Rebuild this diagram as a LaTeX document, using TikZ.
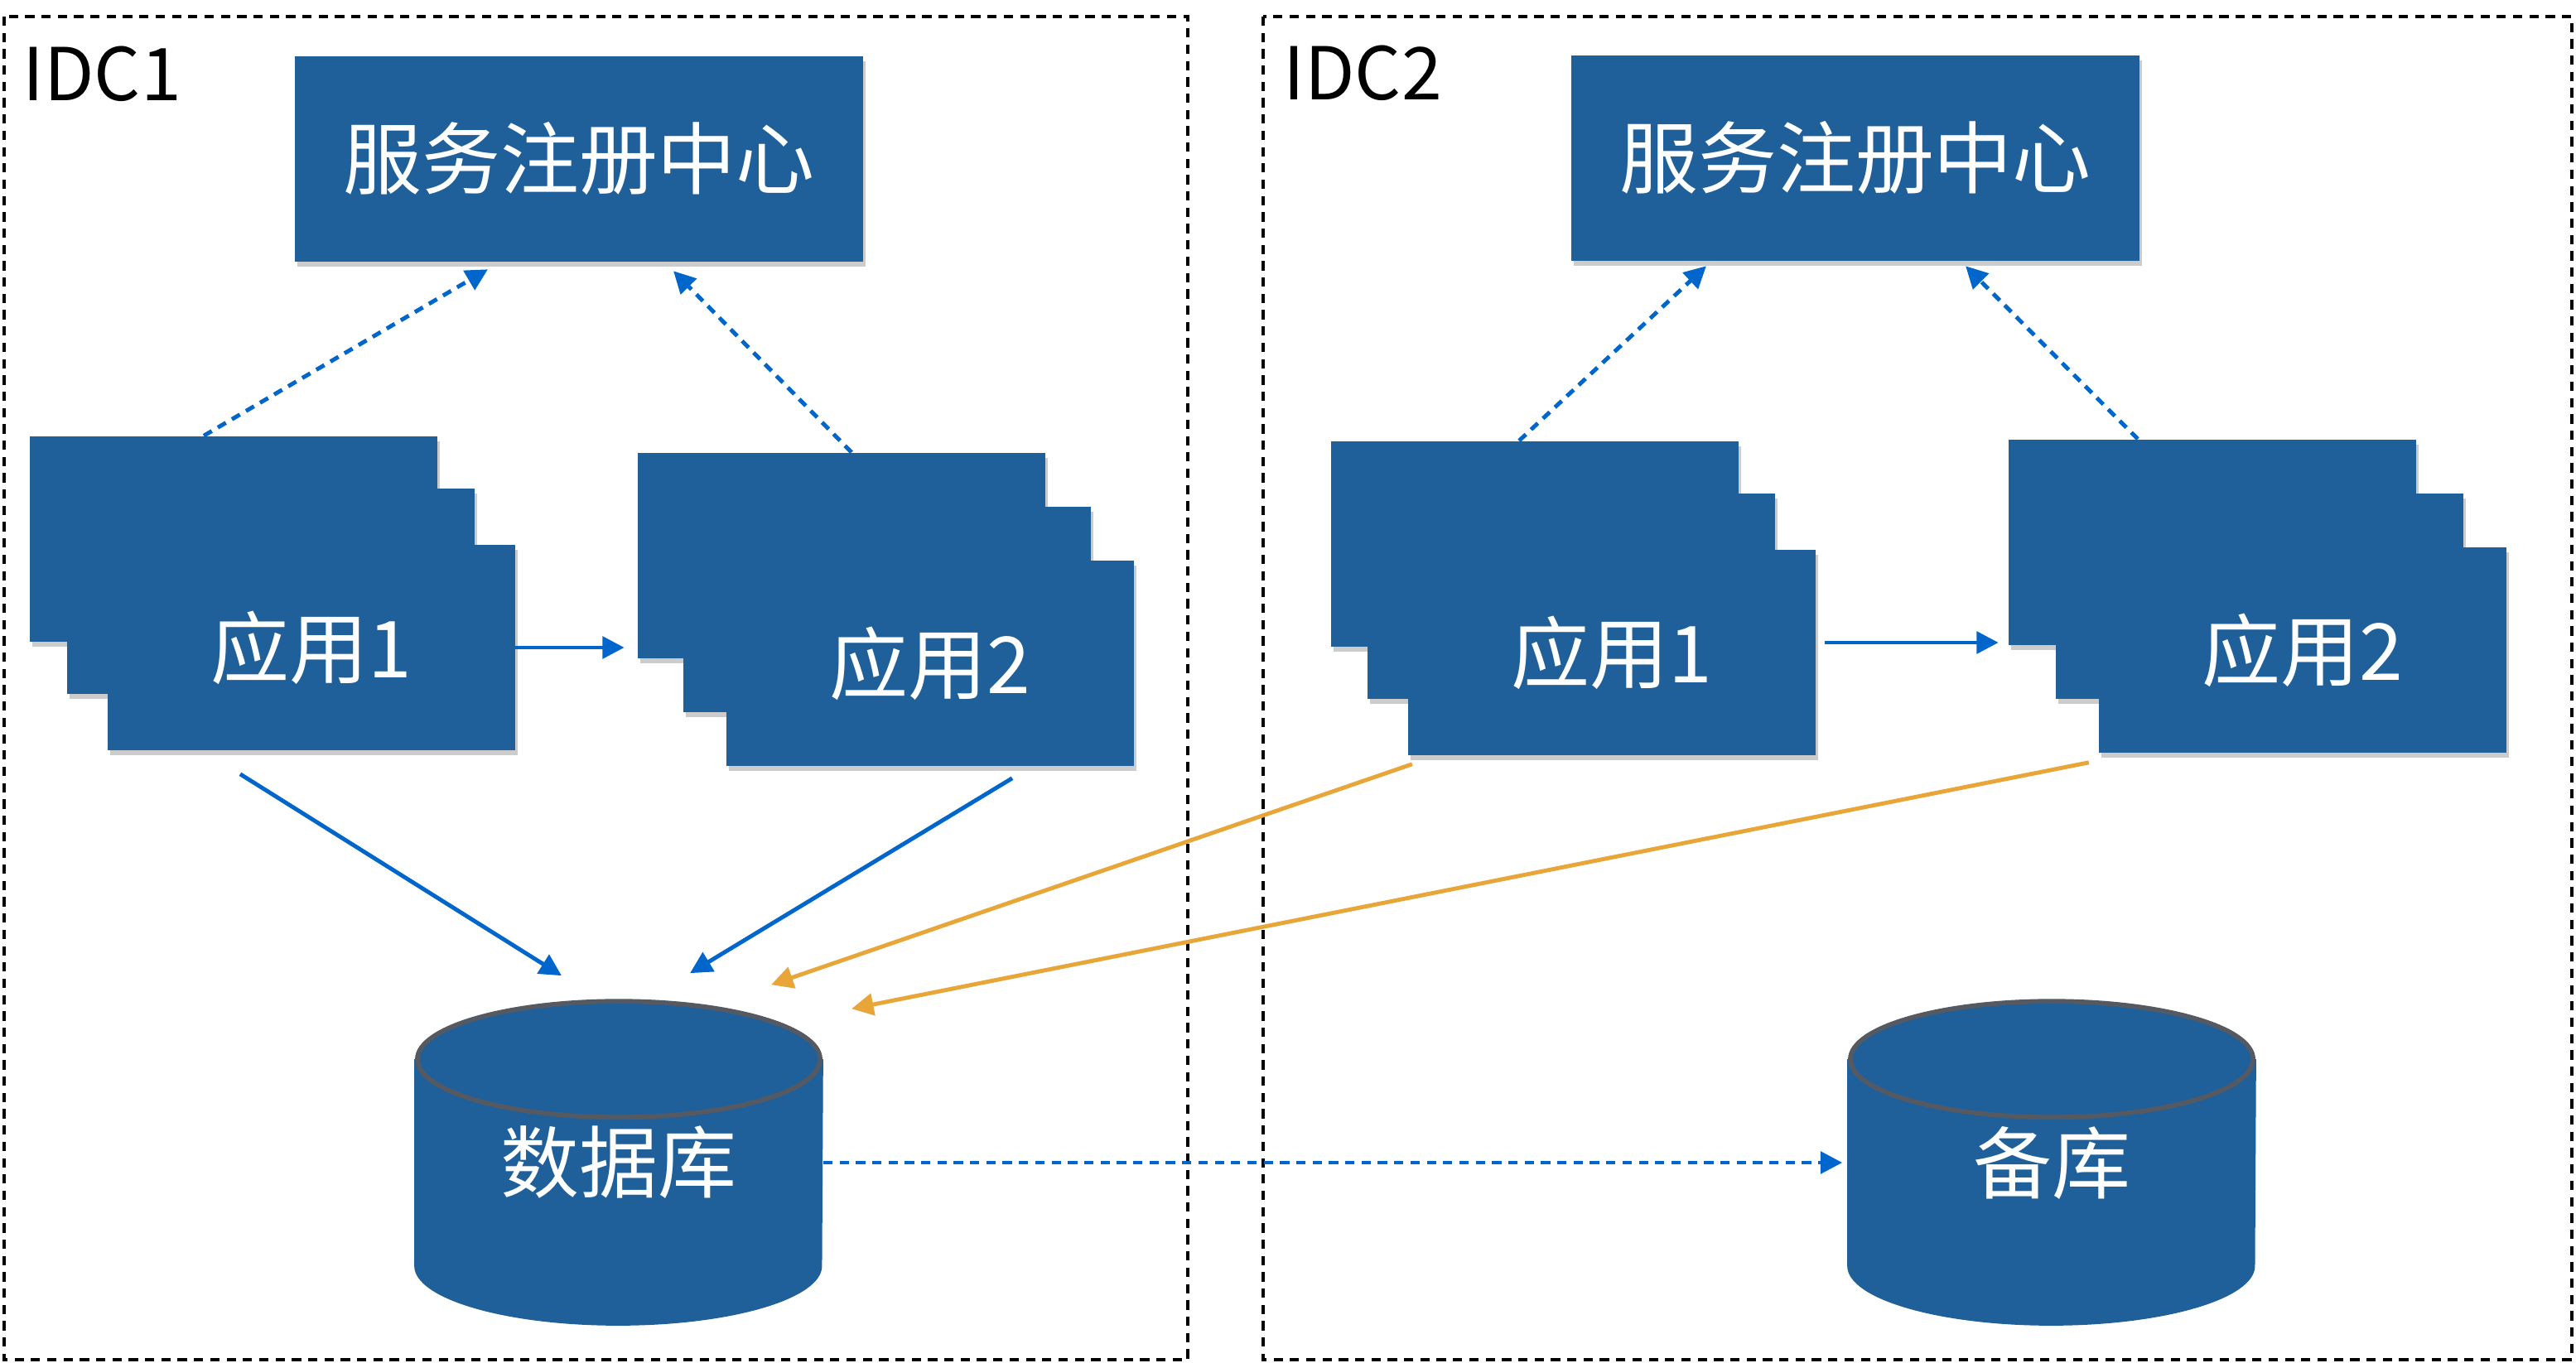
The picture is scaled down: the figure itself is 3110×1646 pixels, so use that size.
\documentclass[tikz,border=0pt]{standalone}
\usepackage{fontspec}
\usepackage{tikz}
\usetikzlibrary{arrows.meta,positioning,calc,backgrounds,shadows}
\newfontfamily\cjk{Noto Sans CJK SC}
\definecolor{boxblue}{HTML}{1F609B}
\definecolor{linkblue}{HTML}{0066CC}
\definecolor{amber}{HTML}{E8A538}
\definecolor{rimgray}{HTML}{555A62}

\begin{document}
\begin{tikzpicture}[
  x=0.01cm,y=-0.01cm,
  every node/.style={font=\cjk\fontsize{27}{32}\selectfont,align=center},
  svc/.style={fill=boxblue,text=white,inner sep=0pt,minimum width=4.91cm,minimum height=2.48cm,
    drop shadow={shadow xshift=0.03cm,shadow yshift=-0.06cm,fill=black,opacity=0.2}},
  reg/.style={svc,minimum width=6.85cm,minimum height=2.47cm},
  store/.style={text=white,inner sep=0pt,minimum width=4.92cm,minimum height=3.92cm},
  idc/.style={font=\cjk\fontsize{25}{30}\selectfont,anchor=base west,inner sep=0pt},
  frame/.style={draw=black,line width=1.3pt,dash pattern=on 3.2pt off 2.4pt},
  arr/.style={-{Triangle[length=7.5pt,width=7.5pt]},line width=1.4pt,color=linkblue},
  dotarr/.style={arr,dash pattern=on 3.2pt off 2.4pt},
  cross/.style={arr,color=amber}
]
\useasboundingbox (0,0) rectangle (3110,1646);
% data centres
\draw[frame] (5,20) rectangle (1434,1642);
\draw[frame] (1525,20) rectangle (3105,1642);
\node[idc] (idc1) at (27,122) {IDC1};
\node[idc] (idc2) at (1549,121) {IDC2};
% registries
\node[reg] (reg1) at (699,192) {服务注册中心};
\node[reg] (reg2) at (2240,191) {服务注册中心};
% IDC1 apps
\node[svc] (a1c) at (282,651) {};
\node[svc] (a1b) at (327,714) {};
\node[svc] (a1a) at (376,782) {应用1};
\node[svc] (a2c) at (1016,671) {};
\node[svc] (a2b) at (1071,736) {};
\node[svc] (a2a) at (1123,801) {应用2};
% IDC2 apps
\node[svc] (b1c) at (1853,657) {};
\node[svc] (b1b) at (1897,720) {};
\node[svc] (b1a) at (1946,788) {应用1};
\node[svc] (b2c) at (2671,655) {};
\node[svc] (b2b) at (2728,720) {};
\node[svc] (b2a) at (2780,785) {应用2};
% databases
\node[store] (db) at (747,1404) {数据库};
\node[store] (bk) at (2477,1404) {备库};
\begin{scope}[on background layer]
\foreach \cyl in {db,bk} {
  \fill[boxblue] ($(\cyl.north west)+(0,72)$) -- ($(\cyl.south west)+(0,-72)$)
    arc[start angle=180,end angle=360,x radius=2.46cm,y radius=0.72cm]
    -- ($(\cyl.north east)+(0,72)$) -- cycle;
  \filldraw[fill=boxblue,draw=rimgray,line width=1.6pt] ($(\cyl.north)+(0,72)$)
    ellipse[x radius=2.43cm,y radius=0.70cm];
}
\end{scope}
% registration
\draw[dotarr] ([xshift=-0.36cm]a1c.north) -- ([xshift=-1.10cm,yshift=-0.09cm]reg1.south);
\draw[dotarr] ([xshift=0.12cm]a2c.north) -- ([xshift=1.14cm,yshift=-0.11cm]reg1.south);
\draw[dotarr] ([xshift=-0.19cm]b1c.north) -- ([xshift=-1.80cm,yshift=-0.06cm]reg2.south);
\draw[dotarr] ([xshift=-0.90cm]b2c.north) -- ([xshift=1.33cm,yshift=-0.06cm]reg2.south);
% calls
\draw[arr,shorten >=0.16cm] (a1a.east) -- (a1a.east -| a2c.west);
\draw[arr,shorten <=0.11cm,shorten >=0.12cm] ([yshift=0.12cm]b1a.east) -- ([yshift=0.12cm]b1a.east -| b2c.west);
% database access
\draw[arr] ([xshift=-0.86cm,yshift=-0.28cm]a1a.south) -- ([xshift=-0.69cm,yshift=0.29cm]db.north);
\draw[arr] ([xshift=0.99cm,yshift=-0.14cm]a2a.south) -- ([xshift=0.86cm,yshift=0.32cm]db.north);
\draw[cross] ([xshift=-2.41cm,yshift=-0.10cm]b1a.south) -- ([xshift=1.84cm,yshift=0.18cm]db.north);
\draw[cross] ([xshift=-2.58cm,yshift=-0.11cm]b2a.south) -- ([xshift=2.81cm,yshift=-0.11cm]db.north);
% replication
\draw[dotarr,shorten >=0.06cm] (db.east) -- (bk.west);
\end{tikzpicture}
\end{document}
